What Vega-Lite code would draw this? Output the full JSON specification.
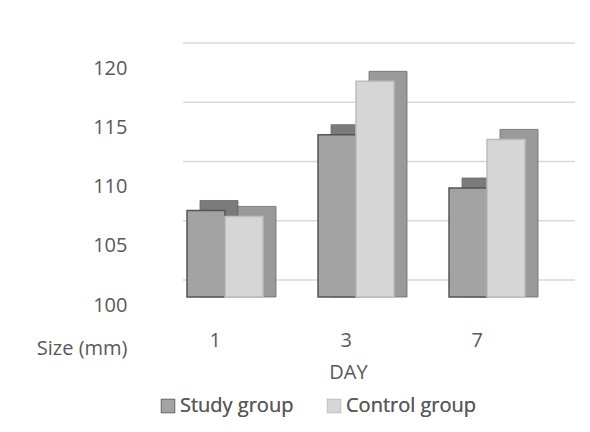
{
  "$schema": "https://vega.github.io/schema/vega-lite/v6.json",
  "width": 392,
  "height": 237,
  "autosize": {"type": "none"},
  "padding": {"left": 183, "top": 60, "right": 15, "bottom": 135},
  "background": "white",
  "config": {
    "font": "Open Sans",
    "view": {"stroke": null},
    "axis": {"labelColor": "#595959", "titleColor": "#595959", "labelFontSize": 20, "titleFontSize": 20, "titleFontWeight": "normal", "ticks": false, "domain": false, "grid": false},
    "legend": {"labelColor": "#595959", "labelFontSize": 20}
  },
  "datasets": {
    "bars": [
      {"day": "1", "group": "Study group", "size": 107.3},
      {"day": "1", "group": "Control group", "size": 106.8},
      {"day": "3", "group": "Study group", "size": 113.7},
      {"day": "3", "group": "Control group", "size": 118.2},
      {"day": "7", "group": "Study group", "size": 109.2},
      {"day": "7", "group": "Control group", "size": 113.3}
    ],
    "grid": [{"v": 100}, {"v": 105}, {"v": 110}, {"v": 115}, {"v": 120}]
  },
  "resolve": {"scale": {"xOffset": "independent", "color": "independent"}, "legend": {"color": "independent"}},
  "layer": [
    {
      "data": {"name": "grid"},
      "mark": {"type": "rule", "yOffset": -17, "stroke": "#d9d9d9", "strokeWidth": 1.5},
      "encoding": {
        "y": {"field": "v", "type": "quantitative", "scale": {"domain": [100, 120], "zero": false}}
      }
    },
    {
      "data": {"name": "bars"},
      "mark": {"type": "bar", "yOffset": -10, "stroke": "#6a6a6a", "strokeWidth": 0.8, "clip": false},
      "encoding": {
        "x": {"field": "day", "type": "nominal", "sort": ["1", "3", "7"], "scale": {"paddingInner": 0.42, "paddingOuter": 0.206, "align": 0.074}},
        "xOffset": {"field": "group", "type": "nominal", "sort": ["Study group", "Control group"], "scale": {"range": [13, 89], "paddingInner": 0, "paddingOuter": 0}},
        "y": {"field": "size", "type": "quantitative"},
        "y2": {"datum": 100},
        "color": {"field": "group", "type": "nominal", "sort": ["Study group", "Control group"], "scale": {"domain": ["Study group", "Control group"], "range": ["#7b7b7b", "#9a9a9a"]}, "legend": null}
      }
    },
    {
      "data": {"name": "bars"},
      "mark": {"type": "bar", "strokeWidth": 1.5, "clip": false},
      "encoding": {
        "x": {"field": "day", "type": "nominal", "sort": ["1", "3", "7"], "title": "DAY",
          "axis": {"labelAngle": 0, "labelOffset": -4, "labelPadding": 43, "titleX": 165, "titleY": 75, "titleBaseline": "middle"}},
        "xOffset": {"field": "group", "type": "nominal", "sort": ["Study group", "Control group"], "scale": {"paddingInner": 0, "paddingOuter": 0}},
        "y": {"field": "size", "type": "quantitative", "title": "Size (mm)",
          "axis": {"values": [100, 105, 110, 115, 120], "labelPadding": 56, "labelOffset": 8, "titleAngle": 0, "titleAlign": "right", "titleX": -56, "titleY": 288, "titleBaseline": "middle"}},
        "y2": {"datum": 100},
        "color": {"field": "group", "type": "nominal", "sort": ["Study group", "Control group"], "scale": {"domain": ["Study group", "Control group"], "range": ["#a3a3a3", "#d6d6d6"]},
          "legend": {"title": null, "orient": "none", "legendX": -25, "legendY": 336, "direction": "horizontal", "symbolType": "square", "symbolSize": 169, "symbolStrokeWidth": 1.5, "columnPadding": 30, "labelOffset": 2}},
        "stroke": {"field": "group", "type": "nominal", "sort": ["Study group", "Control group"], "scale": {"domain": ["Study group", "Control group"], "range": ["#555555", "#bcbcbc"]},
          "legend": {"title": null, "orient": "none", "legendX": -25, "legendY": 336, "direction": "horizontal", "symbolType": "square", "symbolSize": 169, "symbolStrokeWidth": 1.5, "columnPadding": 30, "labelOffset": 2}}
      }
    }
  ]
}
